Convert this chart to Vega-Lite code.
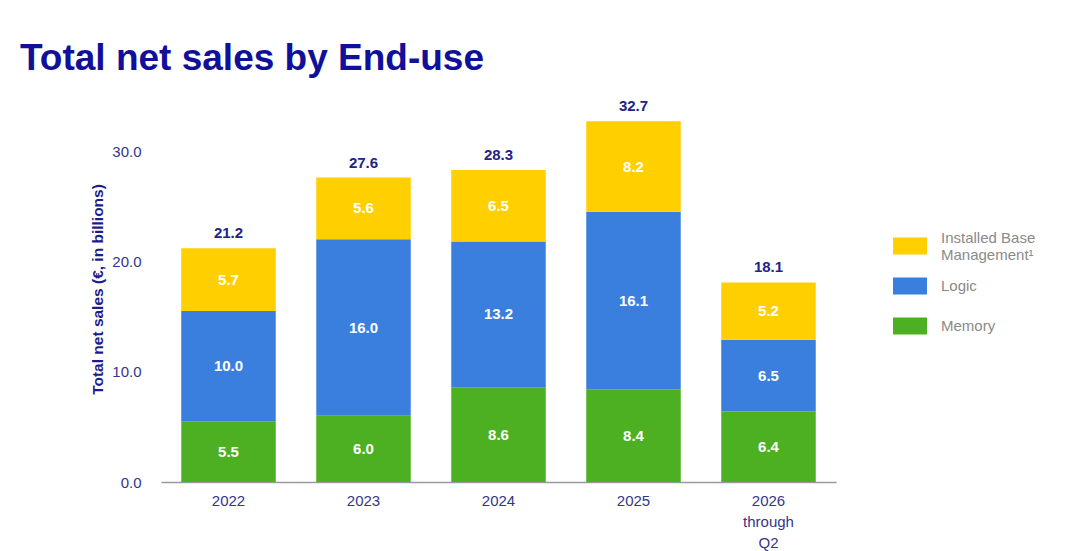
{
  "$schema": "https://vega.github.io/schema/vega-lite/v6.json",
  "width": 675,
  "height": 386,
  "autosize": {"type": "none"},
  "padding": {"left": 161, "top": 96, "right": 244, "bottom": 69},
  "background": "white",
  "title": {
    "text": "Total net sales by End-use",
    "anchor": "start",
    "frame": "group",
    "dx": -141,
    "dy": 37,
    "offset": 26,
    "baseline": "alphabetic",
    "font": "Liberation Sans",
    "fontSize": 37,
    "fontWeight": "bold",
    "color": "#10109a"
  },
  "config": {
    "view": {"stroke": null},
    "font": "Liberation Sans"
  },
  "data": {
    "values": [
      {"year": "2022", "cat": "Memory", "ord": 1, "value": 5.5},
      {"year": "2022", "cat": "Logic", "ord": 2, "value": 10.0},
      {"year": "2022", "cat": "Installed Base Management¹", "ord": 3, "value": 5.7},
      {"year": "2023", "cat": "Memory", "ord": 1, "value": 6.0},
      {"year": "2023", "cat": "Logic", "ord": 2, "value": 16.0},
      {"year": "2023", "cat": "Installed Base Management¹", "ord": 3, "value": 5.6},
      {"year": "2024", "cat": "Memory", "ord": 1, "value": 8.6},
      {"year": "2024", "cat": "Logic", "ord": 2, "value": 13.2},
      {"year": "2024", "cat": "Installed Base Management¹", "ord": 3, "value": 6.5},
      {"year": "2025", "cat": "Memory", "ord": 1, "value": 8.4},
      {"year": "2025", "cat": "Logic", "ord": 2, "value": 16.1},
      {"year": "2025", "cat": "Installed Base Management¹", "ord": 3, "value": 8.2},
      {"year": "2026 through Q2", "cat": "Memory", "ord": 1, "value": 6.4},
      {"year": "2026 through Q2", "cat": "Logic", "ord": 2, "value": 6.5},
      {"year": "2026 through Q2", "cat": "Installed Base Management¹", "ord": 3, "value": 5.2}
    ]
  },
  "encoding": {
    "x": {
      "field": "year",
      "type": "nominal",
      "sort": null,
      "scale": {"paddingInner": 0.3, "paddingOuter": 0.15},
      "axis": {
        "title": null,
        "labelAngle": 0,
        "ticks": false,
        "domainColor": "#9a9a9a",
        "domainWidth": 1.5,
        "labelPadding": 11,
        "labelFontSize": 15,
        "labelColor": "#35358a",
        "labelLineHeight": 21,
        "labelBaseline": "top",
        "labelExpr": "datum.value == '2026 through Q2' ? ['2026', 'through', 'Q2'] : datum.value"
      }
    }
  },
  "layer": [
    {
      "mark": {"type": "bar"},
      "encoding": {
        "y": {
          "field": "value",
          "type": "quantitative",
          "stack": "zero",
          "scale": {"domain": [0, 35], "nice": false},
          "axis": {
            "title": "Total net sales (€, in billions)",
            "titleFontSize": 15.5,
            "titleFontWeight": "bold",
            "titleColor": "#1c1c8c",
            "titleX": -64,
            "titleBaseline": "middle",
            "values": [0, 10, 20, 30],
            "format": ".1f",
            "grid": false,
            "ticks": false,
            "domain": false,
            "labelPadding": 20,
            "labelFontSize": 15,
            "labelColor": "#35358a"
          }
        },
        "color": {
          "field": "cat",
          "type": "nominal",
          "scale": {
            "domain": ["Installed Base Management¹", "Logic", "Memory"],
            "range": ["#FFCF00", "#3A7FDD", "#4DAF22"]
          },
          "legend": {
            "title": null,
            "orient": "none",
            "legendX": 732,
            "legendY": 133,
            "symbolType": "M-1,-0.5H1V0.5H-1Z",
            "symbolSize": 1156,
            "symbolStrokeWidth": 0,
            "labelOffset": 14,
            "labelFontSize": 15,
            "labelColor": "#8a8a8a",
            "labelLimit": 200,
            "labelLineHeight": 18,
            "clipHeight": 34,
            "rowPadding": 6,
            "labelBaseline": {"expr": "datum.label == 'Installed Base Management¹' ? 'bottom' : 'middle'"},
            "labelExpr": "datum.label == 'Installed Base Management¹' ? ['Installed Base', 'Management¹'] : datum.label"
          }
        },
        "order": {"field": "ord", "type": "quantitative"}
      }
    },
    {
      "mark": {"type": "text", "color": "white", "fontWeight": "bold", "fontSize": 15, "baseline": "middle"},
      "encoding": {
        "y": {"field": "value", "type": "quantitative", "stack": "zero", "bandPosition": 0.5},
        "detail": {"field": "cat"},
        "order": {"field": "ord", "type": "quantitative"},
        "text": {"field": "value", "type": "quantitative", "format": ".1f"}
      }
    },
    {
      "mark": {"type": "text", "color": "#222288", "fontWeight": "bold", "fontSize": 15, "baseline": "bottom", "dy": -7},
      "encoding": {
        "y": {"aggregate": "sum", "field": "value", "type": "quantitative"},
        "text": {"aggregate": "sum", "field": "value", "type": "quantitative", "format": ".1f"}
      }
    }
  ]
}
